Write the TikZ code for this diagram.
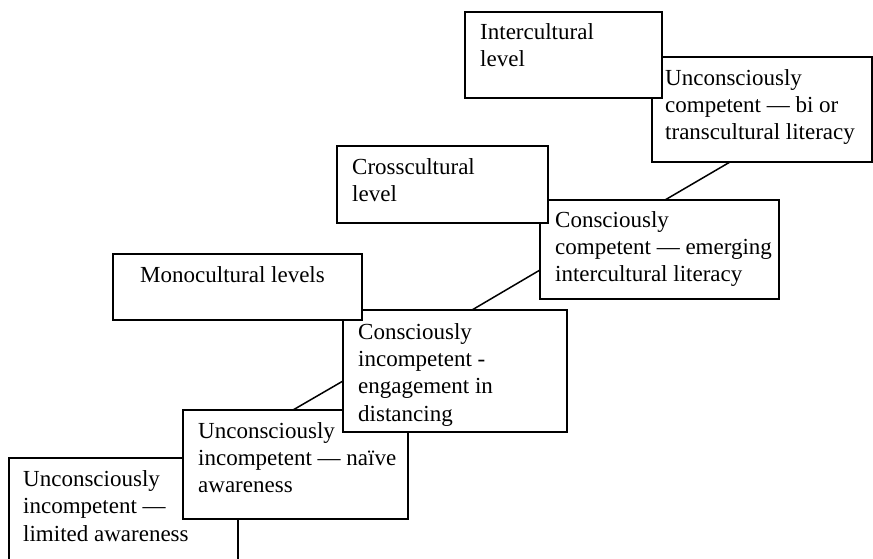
\documentclass[tikz,border=0pt]{standalone}
\usepackage{fontspec}
\setmainfont{Liberation Serif}
\begin{document}
\begin{tikzpicture}[x=1pt, y=-1pt,
	lvlbox/.style={draw, line width=1.6pt, fill=white, anchor=north west, inner sep=0pt, outer sep=0pt},
	lvltext/.style={anchor=north west, inner sep=0pt, align=left, font=\fontsize{23}{27.3}\selectfont},
	link/.style={line width=1.5pt}]
	
	% Fix the page to the size of the picture
	\useasboundingbox (0,0) rectangle (873,559);
	\clip (0,0) rectangle (873,559);
	
	% Draw the monocultural steps, lowest first
	\node[lvlbox, minimum width=229, minimum height=130] (limited) at (9,458) {};
	\node[lvltext] (limitedtxt) at ([xshift=14, yshift=-12.5]limited.north west) {Unconsciously\\incompetent —\\limited awareness};
	\node[lvlbox, minimum width=225, minimum height=109] (naive) at (183,410) {};
	\node[lvltext] (naivetxt) at ([xshift=15, yshift=-12]naive.north west) {Unconsciously\\incompetent — naïve\\awareness};
	\node[lvlbox, minimum width=224, minimum height=122] (ci) at (343,310) {};
	\node[lvltext] (citxt) at ([xshift=15, yshift=-13]ci.north west) {Consciously\\incompetent -\\engagement in\\distancing};
	\node[lvlbox, minimum width=249, minimum height=66] (mono) at (113,254) {};
	\node[lvltext] (monotxt) at ([xshift=27, yshift=-12]mono.north west) {Monocultural levels};
	
	% Draw the crosscultural step
	\node[lvlbox, minimum width=239, minimum height=99] (cc) at (540,200) {};
	\node[lvltext] (cctxt) at ([xshift=15, yshift=-11]cc.north west) {Consciously\\competent — emerging\\intercultural literacy};
	\node[lvlbox, minimum width=211, minimum height=77] (cross) at (337,146) {};
	\node[lvltext] (crosstxt) at ([xshift=15, yshift=-12]cross.north west) {Crosscultural\\level};
	
	% Draw the intercultural step
	\node[lvlbox, minimum width=220, minimum height=105] (uc) at (652,57) {};
	\node[lvltext] (uctxt) at ([xshift=13, yshift=-12]uc.north west) {Unconsciously\\competent — bi or\\transcultural literacy};
	\node[lvlbox, minimum width=197, minimum height=86] (inter) at (465,12) {};
	\node[lvltext] (intertxt) at ([xshift=15, yshift=-11]inter.north west) {Intercultural\\level};
	
	% Link the steps
	\draw[link] ([xshift=78]uc.south west) -- ([xshift=125]cc.north west);
	\draw[link] ([yshift=-70]cc.north west) -- ([xshift=129]ci.north west);
	\draw[link] ([yshift=-71]ci.north west) -- ([xshift=110]naive.north west);
	
\end{tikzpicture}
\end{document}
